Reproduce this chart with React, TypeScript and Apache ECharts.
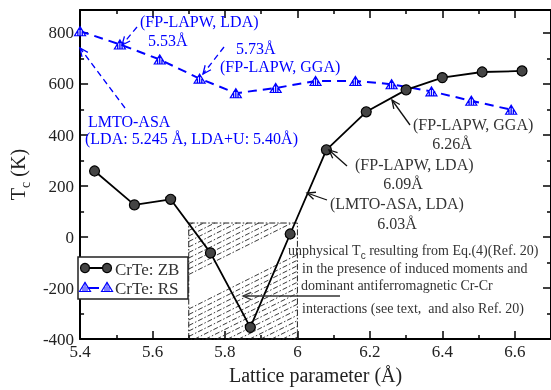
import React, { useEffect, useRef } from "react";
import * as echarts from "echarts";

// ---- data ----
const zbX = [5.44, 5.55, 5.65, 5.76, 5.87, 5.98, 6.08, 6.19, 6.3, 6.4, 6.51, 6.62];
const zbTc = [259, 126, 148, -62, -354, 12, 342, 491, 577, 625, 647, 651];
const rsX = [5.4, 5.51, 5.62, 5.73, 5.83, 5.94, 6.05, 6.16, 6.26, 6.37, 6.48, 6.59];
const rsTc = [807, 755, 696, 621, 564, 584, 612, 612, 599, 571, 534, 499];
const xMajor = [5.4, 5.6, 5.8, 6.0, 6.2, 6.4, 6.6];
const xMinor = [5.5, 5.7, 5.9, 6.1, 6.3, 6.5];
const yMajor = [-400, -200, 0, 200, 400, 600, 800];
const yMinor = [-300, -100, 100, 300, 500, 700];
const hatchX = [5.7, 6.0];
const hatchY = [-400, 55];
const seriesNames = ["CrTe: ZB", "CrTe: RS"];

const FONT = "Liberation Serif";
const BLUE = "#0000ff";
const DARK = "#333333";

function arrow(x1: number, y1: number, x2: number, y2: number, color: string, dashed: boolean) {
  const ang = Math.atan2(y2 - y1, x2 - x1);
  const L = 9, a = 0.42;
  const h1 = [x2 - L * Math.cos(ang - a), y2 - L * Math.sin(ang - a)];
  const h2 = [x2 - L * Math.cos(ang + a), y2 - L * Math.sin(ang + a)];
  return [
    { type: "line", shape: { x1, y1, x2, y2 }, style: { stroke: color, lineWidth: 1.3, lineDash: dashed ? [6, 4] : null }, z: 100 },
    { type: "polyline", shape: { points: [h1, [x2, y2], h2] }, style: { stroke: color, lineWidth: 1.3, fill: null }, z: 100 },
  ];
}

function txt(x: number, y: number, text: string, color: string, size: number, align = "left", rich?: any) {
  return {
    type: "text",
    x,
    y,
    z: 100,
    style: {
      text,
      fill: color,
      fontSize: size,
      fontFamily: FONT,
      align,
      textAlign: align,
      verticalAlign: "middle",
      textVerticalAlign: "middle",
      lineHeight: rich ? size + 6 : undefined,
      rich,
    },
  };
}

function tri(cx: number, cy: number) {
  const w = 5.5, h = 4.5;
  return [
    { type: "polygon", z: 101, shape: { points: [[cx - w, cy + h], [cx, cy - h], [cx + w, cy + h]] }, style: { stroke: BLUE, fill: "#fff", lineWidth: 1.2 } },
    { type: "line", z: 102, shape: { x1: cx, y1: cy - h, x2: cx, y2: cy + h }, style: { stroke: BLUE, lineWidth: 1 } },
    { type: "line", z: 102, shape: { x1: cx - 2, y1: cy - 0.5, x2: cx - 2, y2: cy + h }, style: { stroke: BLUE, lineWidth: 1 } },
    { type: "line", z: 102, shape: { x1: cx + 2, y1: cy - 0.5, x2: cx + 2, y2: cy + h }, style: { stroke: BLUE, lineWidth: 1 } },
  ];
}

function clipSeg(L: number, R: number, T: number, B: number, b: number, k: number) {
  // line y = b - k (x - L)
  const xs = Math.max(L, L + (b - B) / k);
  const xe = Math.min(R, L + (b - T) / k);
  if (xe <= xs) return null;
  return { x1: xs, y1: b - k * (xs - L), x2: xe, y2: b - k * (xe - L) };
}

export default function App() {
  const ref = useRef<HTMLDivElement>(null);
  useEffect(() => {
    if (!ref.current) return;
    const chart = echarts.init(ref.current, null, { renderer: "svg" });

    const xBase = { type: "value", min: 5.4, max: 6.7, splitLine: { show: false }, gridIndex: 0 };
    const yBase = { type: "value", min: -400, max: 890, splitLine: { show: false }, gridIndex: 0 };
    const lineStyle = { color: "#000", width: 2 };

    const graphic: any[] = [];
    // legend
    graphic.push({ type: "rect", shape: { x: 78, y: 257, width: 110, height: 42 }, style: { stroke: "#222", lineWidth: 1.5, fill: "#fff" }, z: 99 });
    graphic.push({ type: "line", shape: { x1: 85, y1: 268, x2: 107, y2: 268 }, style: { stroke: "#000", lineWidth: 2 }, z: 100 });
    graphic.push({ type: "circle", shape: { cx: 85, cy: 268, r: 4.5 }, style: { fill: "#444", stroke: "#000", lineWidth: 1.2 }, z: 101 });
    graphic.push({ type: "circle", shape: { cx: 107, cy: 268, r: 4.5 }, style: { fill: "#444", stroke: "#000", lineWidth: 1.2 }, z: 101 });
    graphic.push(txt(115, 269, seriesNames[0], DARK, 17));
    graphic.push({ type: "line", shape: { x1: 85, y1: 288, x2: 99, y2: 288 }, style: { stroke: BLUE, lineWidth: 2 }, z: 100 });
    graphic.push(...tri(85, 287));
    graphic.push(...tri(107, 287));
    graphic.push(txt(115, 288, seriesNames[1], DARK, 17));

    // blue annotations
    graphic.push(txt(140, 21, "(FP-LAPW, LDA)", BLUE, 16));
    graphic.push(txt(148, 40, "5.53Å", BLUE, 16));
    graphic.push(...arrow(137, 27, 122, 45, BLUE, true));
    graphic.push(txt(236, 48, "5.73Å", BLUE, 16));
    graphic.push(txt(220, 66, "(FP-LAPW, GGA)", BLUE, 16));
    graphic.push(...arrow(224, 47, 203, 74, BLUE, true));
    graphic.push(txt(88, 121, "LMTO-ASA", BLUE, 16));
    graphic.push(txt(85, 138, "(LDA: 5.245 Å, LDA+U: 5.40Å)", BLUE, 16));
    graphic.push(...arrow(125, 108, 80, 48, BLUE, true));

    // black annotations
    graphic.push(txt(413, 124, "(FP-LAPW, GGA)", DARK, 16));
    graphic.push(txt(452, 143, "6.26Å", DARK, 16, "center"));
    graphic.push(...arrow(410, 125, 392, 100, "#111", false));
    graphic.push(txt(355, 164, "(FP-LAPW, LDA)", DARK, 16));
    graphic.push(txt(403, 183, "6.09Å", DARK, 16, "center"));
    graphic.push(...arrow(347, 166, 329, 150, "#111", false));
    graphic.push(txt(330, 203, "(LMTO-ASA, LDA)", DARK, 16));
    graphic.push(txt(397, 223, "6.03Å", DARK, 16, "center"));
    graphic.push(...arrow(327, 200, 307, 193, "#111", false));

    const sub = { s: { fontSize: 10, verticalAlign: "bottom", lineHeight: 10 } };
    graphic.push(txt(288, 250, "unphysical T{s|c} resulting from Eq.(4)(Ref. 20)", DARK, 14, "left", sub));
    graphic.push(txt(302, 268, "in the presence of induced moments and", DARK, 14));
    graphic.push(txt(301, 285, "dominant antiferromagnetic Cr-Cr", DARK, 14));
    graphic.push(txt(302, 308, "interactions (see text,  and also Ref. 20)", DARK, 14));
    graphic.push(...arrow(340, 296, 243, 296, "#333", false));

    const option: any = {
      animation: false,
      textStyle: { fontFamily: FONT },
      grid: { left: 78, top: 10, width: 474.5, height: 332 },
      xAxis: [
        {
          ...xBase,
          position: "bottom",
          axisLine: { show: true, onZero: false, lineStyle },
          axisTick: { show: true, inside: true, length: 8, lineStyle: { color: "#000", width: 1.5 }, customValues: xMajor },
          axisLabel: {
            show: true,
            customValues: xMajor,
            margin: 4,
            fontSize: 17,
            color: "#222",
            fontFamily: FONT,
            formatter: (v: number) => String(Math.round(v * 10) / 10),
          },
          name: "Lattice parameter (Å)",
          nameLocation: "middle",
          nameGap: 25,
          nameTextStyle: { fontSize: 20, color: "#222", fontFamily: FONT },
        },
        {
          ...xBase,
          position: "bottom",
          axisLine: { show: false, onZero: false },
          axisTick: { show: true, inside: true, length: 4, lineStyle: { color: "#000", width: 1.5 }, customValues: xMinor },
          axisLabel: { show: false },
        },
        {
          ...xBase,
          position: "top",
          axisLine: { show: true, onZero: false, lineStyle },
          axisTick: { show: true, inside: true, length: 8, lineStyle: { color: "#000", width: 1.5 }, customValues: xMajor },
          axisLabel: { show: false },
        },
        {
          ...xBase,
          position: "top",
          axisLine: { show: false, onZero: false },
          axisTick: { show: true, inside: true, length: 4, lineStyle: { color: "#000", width: 1.5 }, customValues: xMinor },
          axisLabel: { show: false },
        },
      ],
      yAxis: [
        {
          ...yBase,
          position: "left",
          axisLine: { show: true, onZero: false, lineStyle },
          axisTick: { show: true, inside: true, length: 8, lineStyle: { color: "#000", width: 1.5 }, customValues: yMajor },
          axisLabel: { show: true, customValues: yMajor, margin: 6, fontSize: 17, color: "#222", fontFamily: FONT },
          name: "{t|T}{s|c}{t| (K)}",
          nameLocation: "middle",
          nameRotate: 90,
          nameGap: 44,
          nameTextStyle: {
            fontSize: 20,
            color: "#222",
            fontFamily: FONT,
            rich: {
              t: { fontSize: 20, fontFamily: FONT, color: "#222", lineHeight: 28, verticalAlign: "middle" },
              s: { fontSize: 14, fontFamily: FONT, color: "#222", lineHeight: 14, verticalAlign: "bottom" },
            },
          },
        },
        {
          ...yBase,
          position: "left",
          axisLine: { show: false, onZero: false },
          axisTick: { show: true, inside: true, length: 4, lineStyle: { color: "#000", width: 1.5 }, customValues: yMinor },
          axisLabel: { show: false },
        },
        {
          ...yBase,
          position: "right",
          axisLine: { show: true, onZero: false, lineStyle },
          axisTick: { show: true, inside: true, length: 8, lineStyle: { color: "#000", width: 1.5 }, customValues: yMajor },
          axisLabel: { show: false },
        },
        {
          ...yBase,
          position: "right",
          axisLine: { show: false, onZero: false },
          axisTick: { show: true, inside: true, length: 4, lineStyle: { color: "#000", width: 1.5 }, customValues: yMinor },
          axisLabel: { show: false },
        },
      ],
      series: [
        {
          type: "custom",
          name: "hatch",
          xAxisIndex: 0,
          yAxisIndex: 0,
          silent: true,
          z: 1,
          data: [[hatchX[0], hatchX[1], hatchY[0], hatchY[1]]],
          encode: { x: [0, 1], y: [2, 3] },
          renderItem: (params: any, api: any) => {
            const tl = api.coord([api.value(0), api.value(3)]);
            const br = api.coord([api.value(1), api.value(2)]);
            const L = tl[0], T = tl[1], R = br[0], B = br[1];
            const k = 0.5;
            const W = R - L;
            const children: any[] = [];
            const bands = [
              [T + 2, T + 54],
              [T + 86, B + k * W],
            ];
            for (const [b0, b1] of bands) {
              for (let b = b0; b <= b1; b += 5.5) {
                const s = clipSeg(L, R, T, B, b, k);
                if (s) {
                  children.push({
                    type: "line",
                    shape: s,
                    style: { stroke: "#222", lineWidth: 0.9, lineDash: [5, 2, 1.5, 2], fill: null },
                  });
                }
              }
            }
            children.push({
              type: "rect",
              shape: { x: L, y: T, width: W, height: B - T },
              style: { stroke: "#222", lineWidth: 1, fill: null, lineDash: [6, 2, 1.5, 2] },
            });
            return { type: "group", children };
          },
        },
        {
          type: "line",
          name: seriesNames[0],
          xAxisIndex: 0,
          yAxisIndex: 0,
          z: 5,
          data: zbX.map((x, i) => [x, zbTc[i]]),
          symbol: "circle",
          symbolSize: 10,
          showAllSymbol: true,
          lineStyle: { color: "#000", width: 1.8 },
          itemStyle: { color: "#444", borderColor: "#000", borderWidth: 1.2 },
        },
        {
          type: "line",
          name: seriesNames[1],
          xAxisIndex: 0,
          yAxisIndex: 0,
          z: 4,
          data: rsX.map((x, i) => [x, rsTc[i]]),
          symbol: "path://M0,10L5,0L10,10Z M3,10L3,5 M5,10L5,0 M7,10L7,5",
          symbolSize: [11, 9],
          symbolKeepAspect: false,
          showAllSymbol: true,
          lineStyle: { color: BLUE, width: 2, type: [9, 6] },
          itemStyle: { color: "#fff", borderColor: BLUE, borderWidth: 1.2 },
        },
      ],
      graphic,
    };
    chart.setOption(option);
    return () => chart.dispose();
  }, []);
  return <div ref={ref} style={{ position: "fixed", left: 0, top: 0, width: 551, height: 390 }} />;
}
